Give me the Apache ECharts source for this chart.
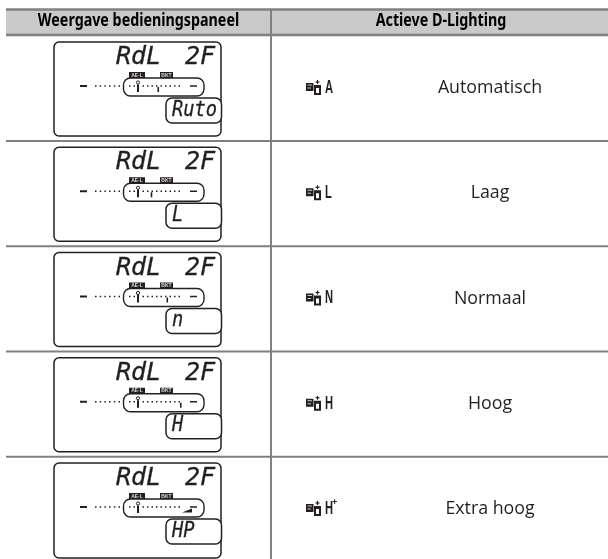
<!DOCTYPE html>
<html>
<head>
<meta charset="utf-8">
<style>html,body{margin:0;padding:0;background:#fff}#chart{width:608px;height:559px}</style>
<script src="https://cdn.jsdelivr.net/npm/echarts@6/dist/echarts.min.js"></script>
</head>
<body>
<div id="chart"></div>
<script>
const headers = ['Weergave bedieningspaneel', 'Actieve D-Lighting']
const rowNames = ['Automatisch', 'Laag', 'Normaal', 'Hoog', 'Extra hoog']
const iconLetters = ['A', 'L', 'N', 'H', 'H']
const iconSup = ['', '', '', '', '+']
const lcdTop = ['RdL', '2F']
const lcdBottom = ['Ruto', 'L', 'n', 'H', 'HP']
const badges = ['AE-L', 'BKT']
// positie van het streepje op de schaal (in stapjes), laatste rij is de pijl
const meterSteps = [6.5, 5, 8.5, 11.5, 12]

const DARK = '#231f20'
const GRAY = '#808080'
const PITCH = 105.25

const renderRow = (params, api) => {
  const i = params.dataIndex
  const top = 36 + i * PITCH + 6
  const at = (x, y) => api.coord([x, y])
  const kids = []
  const line = (x1, y1, x2, y2, w, c) => {
    const a = at(x1, y1), b = at(x2, y2)
    kids.push({ type: 'line', shape: { x1: a[0], y1: a[1], x2: b[0], y2: b[1] }, style: { stroke: c || DARK, lineWidth: w } })
  }
  const box = (x, y, w, h, r, style) => {
    const a = at(x, y)
    kids.push({ type: 'rect', shape: { x: a[0], y: a[1], width: w, height: h, r: r }, style: style })
  }
  const text = (str, x, y, style, sx) => {
    const a = at(x, y)
    kids.push({ type: 'text', x: a[0], y: a[1], scaleX: sx || 1, style: Object.assign({ text: str, fill: DARK, align: 'left', verticalAlign: 'middle' }, style) })
  }
  // scheidingslijn onder de rij
  if (i < rowNames.length - 1) line(6, top + 99, 608, top + 99, 2, GRAY)

  // lcd paneel
  const h = i === rowNames.length - 1 ? 95 : 94
  box(54, top, 167, h, 5, { fill: '#fff', stroke: DARK, lineWidth: 1.5 })
  const lcdFont = 'italic 25px "DejaVu Sans Mono"'
  text(lcdTop[0], 116, top + 15.5, { font: lcdFont, stroke: DARK, lineWidth: 0.3 })
  text(lcdTop[1], 185, top + 15.5, { font: lcdFont, stroke: DARK, lineWidth: 0.3 })

  // badges
  box(129, top + 30, 16, 6, 0, { fill: DARK })
  box(160, top + 30, 13, 6, 0, { fill: DARK })
  text(badges[0], 137, top + 33.2, { font: 'bold 5px "Liberation Sans"', fill: '#ddd', align: 'center' })
  text(badges[1], 166.5, top + 33.2, { font: 'bold 5px "Liberation Sans"', fill: '#ddd', align: 'center' })

  // belichtingsschaal
  line(80, top + 44, 87, top + 44, 2)
  for (let d = 0; d < 6; d++) line(95 + d * 4.7, top + 44, 96.5 + d * 4.7, top + 44, 1.5)
  box(123.5, top + 36, 80.5, 18, 7, { fill: '#fff', stroke: DARK, lineWidth: 1.4 })
  const stepX = (s) => 129 + s * 4.5
  const marker = meterSteps[i]
  for (let d = 0; d < 12; d++) {
    if (d === 2) continue
    line(stepX(d), top + 44, stepX(d) + 1.5, top + 44, 1.5)
  }
  // nulpunt
  const z = at(138, top + 40.5)
  kids.push({ type: 'circle', shape: { cx: z[0], cy: z[1], r: 1.6 }, style: { fill: '#fff', stroke: DARK, lineWidth: 1 } })
  line(138, top + 42.5, 138, top + 50, 2)
  if (i === rowNames.length - 1) {
    const a = at(stepX(marker) - 1, top + 49.5), b = at(stepX(marker) + 9, top + 45.5), c = at(stepX(marker) + 9, top + 49.5)
    kids.push({ type: 'polygon', shape: { points: [a, b, c] }, style: { fill: DARK } })
  } else {
    line(stepX(marker), top + 45, stepX(marker), top + 50, 1.6)
  }
  line(190, top + 44, 197, top + 44, 1.5)

  // onderste vak
  box(166, top + 56, 55.5, 25, 6, { fill: '#fff', stroke: DARK, lineWidth: 1.5 })
  text(lcdBottom[i], 172, top + 68, { font: 'italic 22px "DejaVu Sans Mono"', stroke: DARK, lineWidth: 0.3 }, 0.85)

  // pictogram
  const iy = top + 44
  box(306, iy - 3, 7.5, 8, 0, { fill: DARK })
  line(307.5, iy - 1, 312, iy - 1, 1, '#ccc')
  line(307.5, iy + 2, 311, iy + 2, 1, '#ccc')
  box(314, iy - 1, 7, 10, 0, { fill: DARK })
  box(316, iy + 2, 3, 5, 0, { fill: '#fff' })
  line(317.5, iy - 6, 317.5, iy - 2, 1.2)
  line(315.5, iy - 4, 319.5, iy - 4, 1.2)
  text(iconLetters[i], 325, iy + 2, { font: 'bold 18px "Liberation Sans"' }, 0.62)
  if (iconSup[i]) text(iconSup[i], 332, iy - 4, { font: 'bold 9px "Liberation Sans"' })

  // naam
  text(rowNames[i], 490, iy + 2, { font: '17.8px "Open Sans"', align: 'center' })

  return { type: 'group', children: kids }
}

const myChart = echarts.init(document.getElementById('chart'))
const option = {
  animation: false,
  backgroundColor: '#fff',
  grid: { left: 0, right: 0, top: 0, bottom: 0 },
  xAxis: { type: 'value', min: 0, max: 608, show: false },
  yAxis: { type: 'value', min: 0, max: 559, inverse: true, show: false },
  graphic: [
    { type: 'rect', z: 1, shape: { x: 6, y: 9, width: 602, height: 27 }, style: { fill: '#c9c9c9' } },
    { type: 'line', z: 2, shape: { x1: 6, y1: 9.5, x2: 608, y2: 9.5 }, style: { stroke: GRAY, lineWidth: 2.5 } },
    { type: 'line', z: 2, shape: { x1: 6, y1: 35, x2: 608, y2: 35 }, style: { stroke: GRAY, lineWidth: 2.5 } },
    { type: 'line', z: 2, shape: { x1: 271, y1: 9, x2: 271, y2: 559 }, style: { stroke: GRAY, lineWidth: 2 } },
    { type: 'text', z: 3, x: 138.5, y: 21.5, scaleX: 0.84, style: { text: headers[0], font: 'bold 17px "Noto Sans"', fill: '#000', align: 'center', verticalAlign: 'middle' } },
    { type: 'text', z: 3, x: 441, y: 21.5, scaleX: 0.84, style: { text: headers[1], font: 'bold 17px "Noto Sans"', fill: '#000', align: 'center', verticalAlign: 'middle' } }
  ],
  series: [{
    type: 'custom',
    coordinateSystem: 'cartesian2d',
    renderItem: renderRow,
    data: rowNames.map((n, i) => [i, i]),
    z: 5,
    silent: true,
    clip: false
  }]
}
myChart.setOption(option)
</script>
</body>
</html>
